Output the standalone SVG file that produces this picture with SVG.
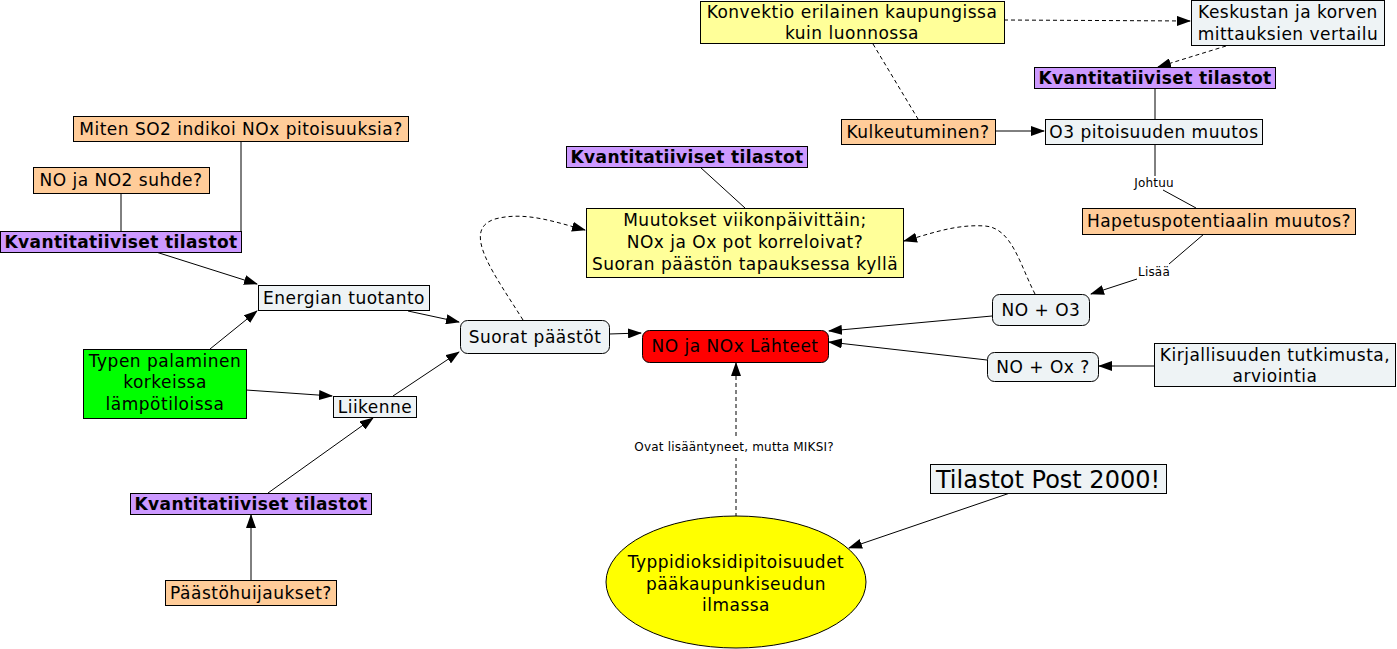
<svg xmlns="http://www.w3.org/2000/svg" width="1397" height="649" viewBox="0 0 1397 649">
<defs>
<marker id="ah" markerWidth="14" markerHeight="10" refX="13" refY="5" orient="auto" markerUnits="userSpaceOnUse"><path d="M0,0 L14,5 L0,10 Z" fill="#000"/></marker>
<style>
text{font-family:"DejaVu Sans","Liberation Sans",sans-serif;font-size:17px;letter-spacing:0.5px;fill:#000;text-anchor:middle}
.b{font-weight:bold;letter-spacing:0.4px}
.s{font-size:12px;letter-spacing:0.2px}
.big{font-size:24px;letter-spacing:0}
.or{fill:#ffcc99;stroke:#000;stroke-width:1}
.pu{fill:#cc99ff;stroke:#000;stroke-width:1}
.lt{fill:#eef3f5;stroke:#000;stroke-width:1}
.ye{fill:#ffff99;stroke:#000;stroke-width:1}
.c{fill:none;stroke:#000;stroke-width:1}
.d{fill:none;stroke:#000;stroke-width:1;stroke-dasharray:4,3}
</style>
</defs>
<rect width="1397" height="649" fill="#fff"/>
<g id="connectors">
<line class="c" x1="121" y1="193" x2="121" y2="231"/>
<line class="c" x1="241" y1="141" x2="241" y2="231"/>
<line class="c" x1="156" y1="252" x2="257" y2="284" marker-end="url(#ah)"/>
<line class="c" x1="210" y1="349" x2="257" y2="311" marker-end="url(#ah)"/>
<line class="c" x1="246" y1="390" x2="332" y2="396" marker-end="url(#ah)"/>
<line class="c" x1="408" y1="311" x2="459" y2="322" marker-end="url(#ah)"/>
<line class="c" x1="393" y1="396" x2="459" y2="352" marker-end="url(#ah)"/>
<line class="c" x1="268" y1="493" x2="373" y2="418" marker-end="url(#ah)"/>
<line class="c" x1="251" y1="580" x2="251" y2="515" marker-end="url(#ah)"/>
<line class="c" x1="609" y1="334" x2="641" y2="333" marker-end="url(#ah)"/>
<line class="c" x1="700" y1="167" x2="745" y2="208"/>
<path class="d" d="M523,320 C495,275 460,230 495,219 C525,211 555,222 585,230" marker-end="url(#ah)"/>
<path class="d" d="M1035,294 C1020,265 1012,228 985,226 C955,224 930,234 904,241" marker-end="url(#ah)"/>
<line class="d" x1="1004" y1="20" x2="1190" y2="21" marker-end="url(#ah)"/>
<line class="d" x1="1226" y1="46" x2="1158" y2="67" marker-end="url(#ah)"/>
<line class="d" x1="873" y1="44" x2="918" y2="119"/>
<line class="c" x1="1155" y1="88" x2="1155" y2="119"/>
<line class="c" x1="995" y1="131" x2="1044" y2="131" marker-end="url(#ah)"/>
<line class="c" x1="1155" y1="144" x2="1155" y2="176"/>
<line class="c" x1="1163" y1="190" x2="1196" y2="208"/>
<text class="s" x="1154" y="187">Johtuu</text>
<line class="c" x1="1204" y1="234" x2="1169" y2="264"/>
<line class="c" x1="1137" y1="279" x2="1091" y2="294" marker-end="url(#ah)"/>
<text class="s" x="1154" y="276">Lisää</text>
<line class="c" x1="992" y1="316" x2="829" y2="331" marker-end="url(#ah)"/>
<line class="c" x1="987" y1="360" x2="829" y2="342" marker-end="url(#ah)"/>
<line class="c" x1="1154" y1="366" x2="1099" y2="366" marker-end="url(#ah)"/>
<line class="c" x1="1010" y1="493" x2="849" y2="548" marker-end="url(#ah)"/>
<line class="d" x1="736" y1="517" x2="736" y2="458"/>
<line class="d" x1="736" y1="436" x2="736" y2="363" marker-end="url(#ah)"/>
<text class="s" x="734" y="451">Ovat lisääntyneet, mutta MIKSI?</text>
</g>
<g id="n-miten"><rect class="or" x="73.5" y="116.5" width="335" height="25"/><text x="241" y="135">Miten SO2 indikoi NOx pitoisuuksia?</text></g>
<g id="n-no-no2"><rect class="or" x="33.5" y="167.5" width="176" height="26"/><text x="121" y="186">NO ja NO2 suhde?</text></g>
<g id="n-kvant1"><rect class="pu" x="0.5" y="231.5" width="241" height="21"/><text class="b" x="121" y="248">Kvantitatiiviset tilastot</text></g>
<g id="n-energia"><rect class="lt" x="258.5" y="285.5" width="171" height="25"/><text x="344" y="304">Energian tuotanto</text></g>
<g id="n-typen"><rect x="83.5" y="349.5" width="163" height="69" fill="#00ff00" stroke="#000"/><text x="165" y="367">Typen palaminen</text><text x="165" y="388">korkeissa</text><text x="165" y="410">lämpötiloissa</text></g>
<g id="n-liikenne"><rect class="lt" x="333.5" y="396.5" width="83" height="21"/><text x="375" y="413">Liikenne</text></g>
<g id="n-kvant2"><rect class="pu" x="130.5" y="493.5" width="241" height="21"/><text class="b" x="251" y="510">Kvantitatiiviset tilastot</text></g>
<g id="n-paasto"><rect class="or" x="165.5" y="580.5" width="171" height="25"/><text x="251" y="599">Päästöhuijaukset?</text></g>
<g id="n-suorat"><rect class="lt" x="460.5" y="320.5" width="149" height="33" rx="7"/><text x="535" y="343">Suorat päästöt</text></g>
<g id="n-lahteet"><rect x="642.5" y="330.5" width="186" height="32" rx="7" fill="#ff0000" stroke="#000"/><text x="735" y="352">NO ja NOx Lähteet</text></g>
<g id="n-kvant3"><rect class="pu" x="566.5" y="146.5" width="241" height="21"/><text class="b" x="687" y="163">Kvantitatiiviset tilastot</text></g>
<g id="n-muutokset"><rect class="ye" x="586.5" y="208.5" width="317" height="69"/><text x="745" y="226">Muutokset viikonpäivittäin;</text><text x="745" y="248">NOx ja Ox pot korreloivat?</text><text x="745" y="270">Suoran päästön tapauksessa kyllä</text></g>
<g id="n-konvektio"><rect class="ye" x="700.5" y="1.5" width="304" height="42"/><text x="852" y="18">Konvektio erilainen kaupungissa</text><text x="852" y="39">kuin luonnossa</text></g>
<g id="n-keskustan"><rect class="lt" x="1191.5" y="0.5" width="193" height="45"/><text x="1288" y="18">Keskustan ja korven</text><text x="1288" y="40">mittauksien vertailu</text></g>
<g id="n-kvant4"><rect class="pu" x="1034.5" y="67.5" width="241" height="21"/><text class="b" x="1155" y="84">Kvantitatiiviset tilastot</text></g>
<g id="n-kulkeutuminen"><rect class="or" x="841.5" y="119.5" width="154" height="25"/><text x="918" y="138">Kulkeutuminen?</text></g>
<g id="n-o3"><rect class="lt" x="1045.5" y="119.5" width="217" height="25"/><text x="1154" y="138">O3 pitoisuuden muutos</text></g>
<g id="n-hapetus"><rect class="or" x="1082.5" y="208.5" width="273" height="26"/><text x="1219" y="227">Hapetuspotentiaalin muutos?</text></g>
<g id="n-no-o3"><rect class="lt" x="992.5" y="294.5" width="97" height="31" rx="7"/><text x="1041" y="316">NO + O3</text></g>
<g id="n-no-ox"><rect class="lt" x="987.5" y="352.5" width="111" height="29" rx="7"/><text x="1043" y="373">NO + Ox ?</text></g>
<g id="n-kirjallisuus"><rect class="lt" x="1154.5" y="343.5" width="241" height="43"/><text x="1275" y="361">Kirjallisuuden tutkimusta,</text><text x="1275" y="382">arviointia</text></g>
<g id="n-tilastot"><rect class="lt" x="930.5" y="464.5" width="236" height="29"/><text class="big" x="1048" y="488">Tilastot Post 2000!</text></g>
<g id="n-typpi"><ellipse cx="736" cy="582" rx="130" ry="66" fill="#ffff00" stroke="#000"/><text x="736" y="568">Typpidioksidipitoisuudet</text><text x="736" y="590">pääkaupunkiseudun</text><text x="736" y="611">ilmassa</text></g>
</svg>
